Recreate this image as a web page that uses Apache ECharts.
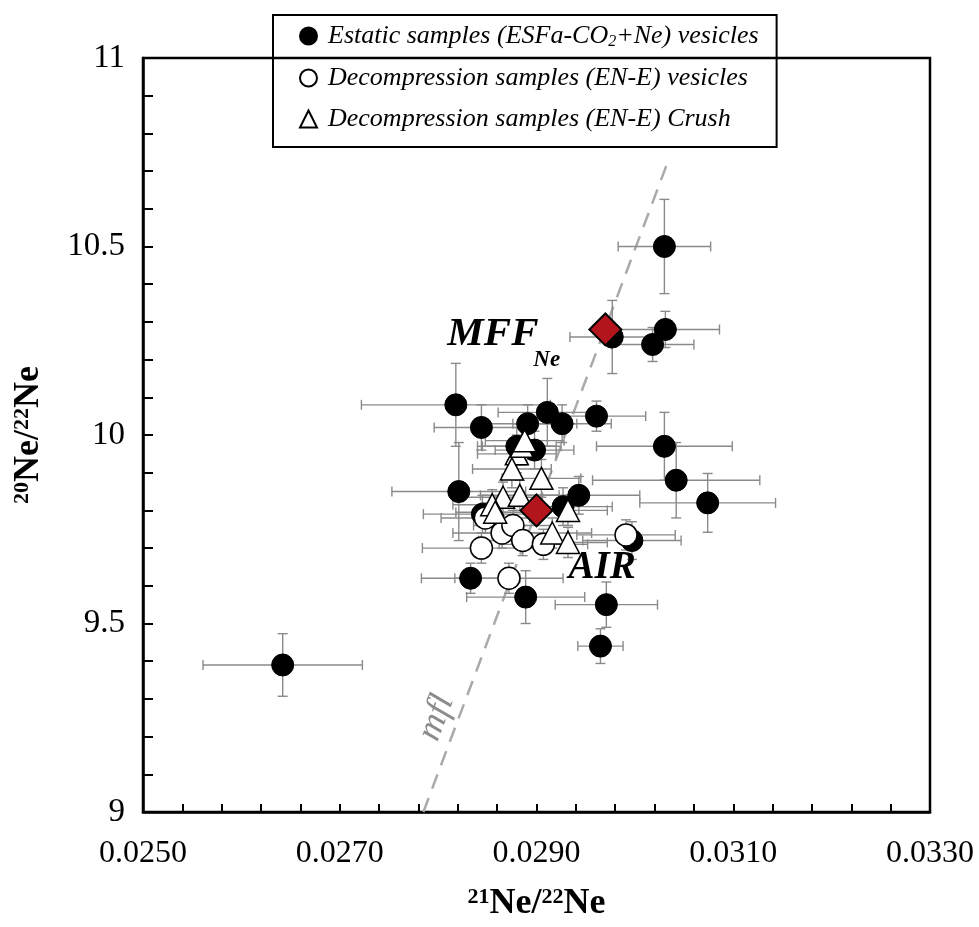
<!DOCTYPE html>
<html>
<head>
<meta charset="utf-8">
<script src="https://cdn.jsdelivr.net/npm/echarts@6/dist/echarts.min.js"></script>
<style>html,body{margin:0;padding:0;background:#fff}#c{width:979px;height:927px}</style>
</head>
<body>
<div id="c"></div>
<script>
// ---- data: [21Ne/22Ne, 20Ne/22Ne, xErr, yErr] ----
const estatic = [
  [0.03030, 10.50, 0.00047, 0.125],
  [0.03031, 10.28, 0.00055, 0.048],
  [0.03018, 10.24, 0.00042, 0.045],
  [0.02977, 10.26, 0.00043, 0.097],
  [0.02818, 10.08, 0.00096, 0.110],
  [0.02844, 10.02, 0.00048, 0.060],
  [0.02911, 10.06, 0.00050, 0.090],
  [0.02926, 10.03, 0.00050, 0.050],
  [0.02961, 10.05, 0.00050, 0.040],
  [0.02891, 10.03, 0.00050, 0.050],
  [0.02880, 9.97, 0.00040, 0.050],
  [0.02898, 9.96, 0.00040, 0.050],
  [0.02821, 9.85, 0.00068, 0.130],
  [0.02943, 9.84, 0.00062, 0.050],
  [0.02845, 9.79, 0.00060, 0.050],
  [0.02927, 9.81, 0.00050, 0.050],
  [0.02997, 9.72, 0.00050, 0.050],
  [0.02833, 9.62, 0.00050, 0.040],
  [0.02889, 9.57, 0.00060, 0.070],
  [0.02971, 9.55, 0.00052, 0.060],
  [0.02965, 9.44, 0.00023, 0.046],
  [0.02642, 9.39, 0.00081, 0.083],
  [0.03030, 9.97, 0.00069, 0.090],
  [0.03042, 9.88, 0.00085, 0.100],
  [0.03074, 9.82, 0.00069, 0.078]
];
const decompVes = [
  [0.02848, 9.78, 0.00045, 0.040],
  [0.02865, 9.74, 0.00050, 0.040],
  [0.02876, 9.76, 0.00040, 0.040],
  [0.02886, 9.72, 0.00045, 0.040],
  [0.02907, 9.71, 0.00045, 0.040],
  [0.02844, 9.70, 0.00060, 0.040],
  [0.02872, 9.62, 0.00055, 0.040],
  [0.02991, 9.735, 0.00050, 0.040]
];
const decompCrush = [
  [0.02880, 9.95, 0.00040, 0.050],
  [0.02885, 9.97, 0.00040, 0.050],
  [0.02888, 9.985, 0.00040, 0.050],
  [0.02875, 9.91, 0.00040, 0.050],
  [0.02905, 9.885, 0.00040, 0.050],
  [0.02866, 9.835, 0.00040, 0.040],
  [0.02883, 9.84, 0.00040, 0.040],
  [0.02855, 9.815, 0.00040, 0.040],
  [0.02858, 9.795, 0.00040, 0.040],
  [0.02932, 9.80, 0.00040, 0.040],
  [0.02916, 9.74, 0.00040, 0.040],
  [0.02932, 9.715, 0.00040, 0.040]
];
const mffPoint = [0.0297, 10.28];
const airPoint = [0.0290, 9.80];
const mflLine = [[0.02785, 9.0], [0.03035, 10.735]];
const xTickLabels = ['0.0250', '0.0270', '0.0290', '0.0310', '0.0330'];
const yTickLabels = ['9', '9.5', '10', '10.5', '11'];

// x axis offset transform so that axis min is a multiple of the tick interval
const X0 = 0.025, XS = 10000;
const tx = v => (v - X0) * XS;
const toPt = d => [tx(d[0]), d[1], d[2] * XS, d[3]];

const FONT = 'Liberation Serif';
const chart = echarts.init(document.getElementById('c'), null, {renderer: 'canvas'});

function errRender(params, api) {
  const x = api.value(0), y = api.value(1), ex = api.value(2), ey = api.value(3);
  const l = api.coord([x - ex, y]), r = api.coord([x + ex, y]);
  const t = api.coord([x, y + ey]), b = api.coord([x, y - ey]);
  const c = 5;
  const st = {stroke: '#8a8a8a', lineWidth: 1.4};
  const ln = (x1, y1, x2, y2) => ({type: 'line', shape: {x1, y1, x2, y2}, style: st});
  return {type: 'group', children: [
    ln(l[0], l[1], r[0], r[1]),
    ln(l[0], l[1] - c, l[0], l[1] + c),
    ln(r[0], r[1] - c, r[0], r[1] + c),
    ln(t[0], t[1], b[0], b[1]),
    ln(t[0] - c, t[1], t[0] + c, t[1]),
    ln(b[0] - c, b[1], b[0] + c, b[1])
  ]};
}

const allErr = estatic.concat(decompVes, decompCrush).map(toPt);
const supStyle = {fontFamily: FONT, fontWeight: 'bold', fontSize: 22, padding: [0, 0, 13, 0], color: '#000'};
const bStyle = {fontFamily: FONT, fontWeight: 'bold', fontSize: 36, color: '#000'};
const legItal = {fontFamily: FONT, fontStyle: 'italic', fontSize: 26, color: '#000'};

const legendNames = [
  'Estatic samples (ESFa-CO2+Ne) vesicles',
  'Decompression samples (EN-E) vesicles',
  'Decompression samples (EN-E) Crush'
];

chart.setOption({
  animation: false,
  backgroundColor: '#fff',
  grid: {left: 143, right: 49, top: 58, bottom: 115, show: true, borderColor: '#000', borderWidth: 2.5},
  legend: {
    orient: 'vertical', left: 273, top: 15,
    data: legendNames,
    borderColor: '#000', borderWidth: 2, padding: [8, 18, 15, 26],
    itemGap: 15, itemWidth: 17, itemHeight: 17,
    selectedMode: false,
    textStyle: {fontFamily: FONT, fontStyle: 'italic', fontSize: 26, color: '#000',
      rich: {g: {width: 6}, i: legItal, s: {fontFamily: FONT, fontStyle: 'italic', fontSize: 16, color: '#000', padding: [12, 0, 0, 0]}}},
    formatter: name => name.indexOf('CO2') >= 0
      ? '{g|}{i|Estatic samples (ESFa-CO}{s|2}{i|+Ne) vesicles}'
      : '{g|}{i|' + name + '}'
  },
  xAxis: {
    type: 'value', min: 0, max: 80, interval: 4,
    name: '{s|21}{b|Ne/}{s|22}{b|Ne}', nameLocation: 'middle', nameGap: 74,
    nameTextStyle: {rich: {s: supStyle, b: bStyle}},
    axisLine: {show: true, lineStyle: {color: '#000', width: 2.5}},
    axisTick: {show: true, inside: true, length: 8, lineStyle: {color: '#000', width: 2}},
    axisLabel: {margin: 26, fontFamily: FONT, fontSize: 32, color: '#000',
      formatter: v => { const k = Math.round(v); return k % 20 === 0 ? xTickLabels[k / 20] : ''; }},
    splitLine: {show: false}
  },
  yAxis: {
    type: 'value', min: 9, max: 11, interval: 0.1,
    name: '{s|20}{b|Ne/}{s|22}{b|Ne}', nameLocation: 'middle', nameGap: 96, nameRotate: 90,
    nameTextStyle: {rich: {s: supStyle, b: bStyle}},
    axisLine: {show: true, lineStyle: {color: '#000', width: 2.5}},
    axisTick: {show: true, inside: true, length: 10, lineStyle: {color: '#000', width: 2}},
    axisLabel: {margin: 18, fontFamily: FONT, fontSize: 33, color: '#000',
      formatter: v => { const k = Math.round(v * 10); return k % 5 === 0 ? yTickLabels[(k - 90) / 5] : ''; }},
    splitLine: {show: false}
  },
  series: [
    {type: 'line', name: 'mfl', data: mflLine.map(p => [tx(p[0]), p[1]]), showSymbol: false, symbol: 'none',
      lineStyle: {color: '#aaaaaa', width: 2.5, type: [15, 10]}, z: 1, silent: true},
    {type: 'custom', name: 'err', data: allErr, renderItem: errRender, z: 2, silent: true,
      encode: {x: 0, y: 1}},
    {type: 'scatter', name: legendNames[0], data: estatic.map(d => [tx(d[0]), d[1]]),
      symbol: 'circle', symbolSize: 22, itemStyle: {color: '#000', borderColor: '#000', borderWidth: 1, opacity: 1}, z: 3},
    {type: 'scatter', name: legendNames[1], data: decompVes.map(d => [tx(d[0]), d[1]]),
      symbol: 'circle', symbolSize: 22, itemStyle: {color: '#fff', borderColor: '#000', borderWidth: 1.5, opacity: 1}, z: 4},
    {type: 'scatter', name: legendNames[2], data: decompCrush.map(d => [tx(d[0]), d[1]]),
      symbol: 'triangle', symbolSize: [23, 22], itemStyle: {color: '#fff', borderColor: '#000', borderWidth: 1.5, opacity: 1}, z: 5},
    {type: 'scatter', name: 'ref', data: [mffPoint, airPoint].map(p => [tx(p[0]), p[1]]),
      symbol: 'diamond', symbolSize: [32, 32], itemStyle: {color: '#b3151d', borderColor: '#000', borderWidth: 2, opacity: 1}, z: 6}
  ]
});

const pM = chart.convertToPixel({gridIndex: 0}, [tx(mffPoint[0]), mffPoint[1]]);
const pA = chart.convertToPixel({gridIndex: 0}, [tx(airPoint[0]), airPoint[1]]);
const mflPos = [0.029 - 0.55 / 694, 9.25];
const pL = chart.convertToPixel({gridIndex: 0}, [tx(mflPos[0]), mflPos[1]]);
const labStyle = {fontFamily: FONT, fontStyle: 'italic', fontWeight: 'bold', fill: '#000'};
chart.setOption({
  graphic: [
    {type: 'text', x: pM[0] - 158, y: pM[1] + 5, style: Object.assign({}, labStyle, {text: 'MFF', fontSize: 41, verticalAlign: 'middle', align: 'left'}), z: 10},
    {type: 'text', x: pM[0] - 72, y: pM[1] + 31, style: Object.assign({}, labStyle, {text: 'Ne', fontSize: 23, verticalAlign: 'middle', align: 'left'}), z: 10},
    {type: 'text', x: pA[0] + 32, y: pA[1] + 58, style: Object.assign({}, labStyle, {text: 'AIR', fontSize: 39, verticalAlign: 'middle', align: 'left'}), z: 10},
    {type: 'text', x: pL[0] - 22, y: pL[1], rotation: 69.4 * Math.PI / 180,
      style: {text: 'mfl', fontFamily: FONT, fontStyle: 'italic', fontSize: 36, fill: '#8c8c8c', align: 'center', verticalAlign: 'middle'}, z: 10}
  ]
});
</script>
</body>
</html>
